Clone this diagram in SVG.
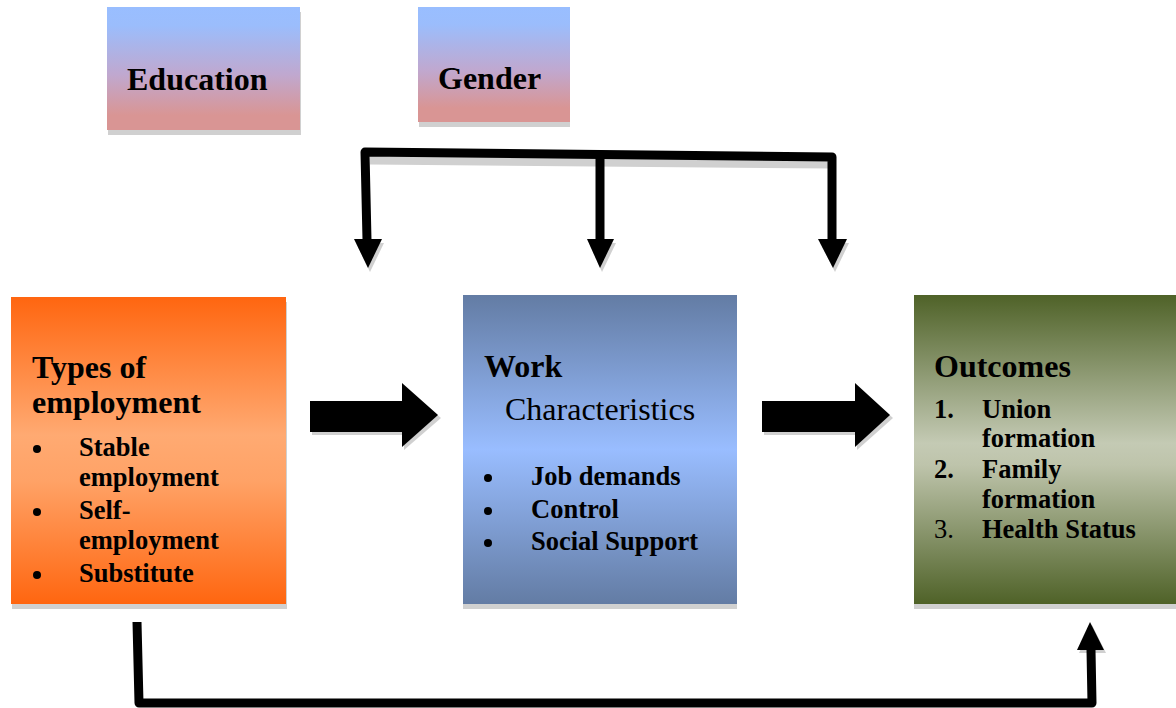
<svg xmlns="http://www.w3.org/2000/svg" width="1176" height="708" viewBox="0 0 1176 708">
<defs>
<linearGradient id="gEG" x1="0" y1="0" x2="0" y2="1">
<stop offset="0" stop-color="#99BEFF"/>
<stop offset="0.15" stop-color="#9BBDFC"/>
<stop offset="0.55" stop-color="#C0A8CF"/>
<stop offset="0.88" stop-color="#D99594"/>
<stop offset="1" stop-color="#D99594"/>
</linearGradient>
<linearGradient id="gT" x1="0" y1="0" x2="0" y2="1">
<stop offset="0" stop-color="#FF6610"/>
<stop offset="0.45" stop-color="#FFAA72"/>
<stop offset="0.6" stop-color="#FFA266"/>
<stop offset="1" stop-color="#FF6610"/>
</linearGradient>
<linearGradient id="gW" x1="0" y1="0" x2="0" y2="1">
<stop offset="0" stop-color="#637CA4"/>
<stop offset="0.5" stop-color="#99BDFF"/>
<stop offset="1" stop-color="#637CA4"/>
</linearGradient>
<linearGradient id="gO" x1="0" y1="0" x2="0" y2="1">
<stop offset="0" stop-color="#4F6228"/>
<stop offset="0.48" stop-color="#C4CAB4"/>
<stop offset="0.55" stop-color="#BEC4AB"/>
<stop offset="1" stop-color="#4F6228"/>
</linearGradient>
</defs>
<style>
.sh{fill:#D0D0D0}
text{font-family:"Liberation Serif","Times New Roman",serif;fill:#000}
.t{font-size:32px;font-weight:bold}
.r{font-size:32px}
.b{font-size:26.5px;font-weight:bold}
.n{font-size:26.5px}
.dot{fill:#000}
.ln{fill:none;stroke:#000;stroke-width:9;stroke-linejoin:round}
.lsh{fill:none;stroke:#D0D0D0;stroke-width:9}
.ah{fill:#000}
.ash{fill:#D0D0D0}
</style>
<rect width="1176" height="708" fill="#fff"/>

<g id="education">
<rect class="sh" x="108" y="12" width="193" height="123"/>
<rect x="107" y="7" width="193" height="123" fill="url(#gEG)"/>
<text class="t" x="127" y="90">Education</text>
</g>

<g id="gender">
<rect class="sh" x="419" y="12" width="151" height="115"/>
<rect x="418" y="7" width="152" height="115" fill="url(#gEG)"/>
<text class="t" x="438" y="89">Gender</text>
</g>

<g id="types">
<rect class="sh" x="12" y="302" width="275" height="307"/>
<rect x="11" y="297" width="275" height="307" fill="url(#gT)"/>
<text class="t" x="32" y="378">Types of</text>
<text class="t" x="32" y="413">employment</text>
<circle class="dot" cx="37" cy="449" r="4"/>
<text class="b" x="79" y="456">Stable</text>
<text class="b" x="79" y="486">employment</text>
<circle class="dot" cx="37" cy="512" r="4"/>
<text class="b" x="79" y="519">Self-</text>
<text class="b" x="79" y="549">employment</text>
<circle class="dot" cx="37" cy="575" r="4"/>
<text class="b" x="79" y="582">Substitute</text>
</g>

<g id="work">
<rect class="sh" x="463" y="300" width="274" height="309"/>
<rect x="463" y="295" width="274" height="309" fill="url(#gW)"/>
<text class="t" x="484" y="377">Work</text>
<text class="r" x="505" y="420">Characteristics</text>
<circle class="dot" cx="488" cy="478" r="4"/>
<text class="b" x="531" y="485">Job demands</text>
<circle class="dot" cx="488" cy="511" r="4"/>
<text class="b" x="531" y="518">Control</text>
<circle class="dot" cx="488" cy="543" r="4"/>
<text class="b" x="531" y="550">Social Support</text>
</g>

<g id="outcomes">
<rect class="sh" x="914" y="300" width="262" height="309"/>
<rect x="914" y="295" width="262" height="309" fill="url(#gO)"/>
<text class="t" x="934" y="377">Outcomes</text>
<text class="b" x="934" y="418">1.</text>
<text class="b" x="982" y="418">Union</text>
<text class="b" x="982" y="447">formation</text>
<text class="b" x="934" y="478">2.</text>
<text class="b" x="982" y="478">Family</text>
<text class="b" x="982" y="508">formation</text>
<text class="n" x="934" y="538">3.</text>
<text class="b" x="982" y="538">Health Status</text>
</g>

<g id="connectors">
<path class="lsh" d="M370 160 L832 164"/>
<polygon class="ash" points="356,243 384,243 370,272"/>
<polygon class="ash" points="589,243 616,243 602,272"/>
<polygon class="ash" points="820,243 849,243 835,272"/>
<path class="ln" d="M367 240 L365 152 L832 157 L832 240"/>
<line class="ln" x1="600" y1="155" x2="600" y2="240"/>
<polygon class="ah" points="354,239 382,239 368,268"/>
<polygon class="ah" points="587,239 614,239 600,268"/>
<polygon class="ah" points="818,239 847,239 833,268"/>

<polygon class="ash" points="312,404 404,404 404,386 441,418 404,450 404,435 312,435"/>
<polygon class="ah" points="310,401 402,401 402,383 438,415 402,447 402,432 310,432"/>
<polygon class="ash" points="764,404 857,404 857,386 893,418 857,450 857,435 764,435"/>
<polygon class="ah" points="762,401 855,401 855,383 890,415 855,447 855,432 762,432"/>

<polygon class="ash" points="1079,653 1106,653 1092,625"/>
<path class="ln" d="M137 622 L139 703 L1092 703 L1091 650"/>
<polygon class="ah" points="1077,650 1104,650 1090,622"/>
</g>
</svg>
